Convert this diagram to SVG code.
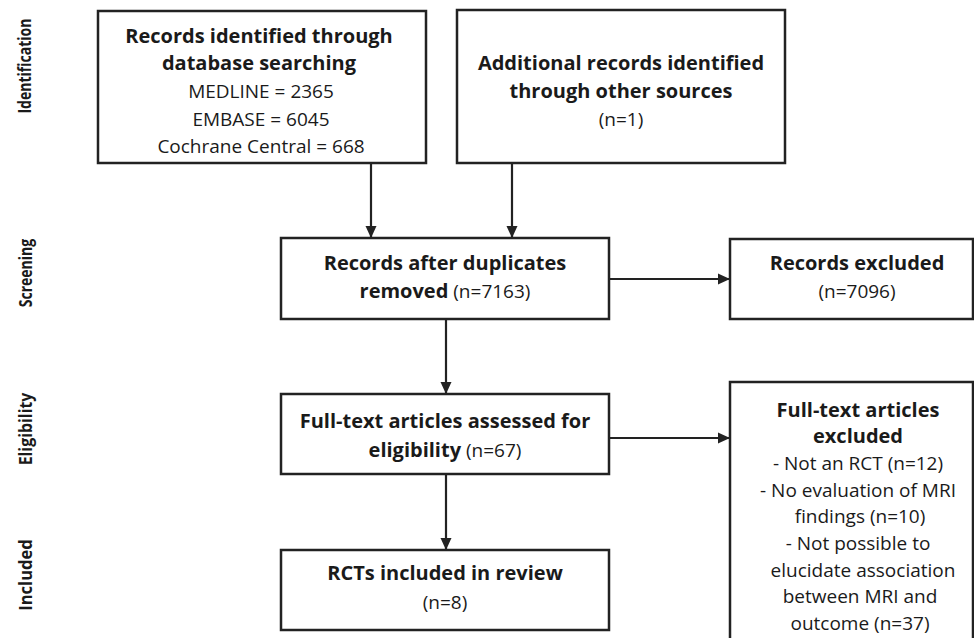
<svg xmlns="http://www.w3.org/2000/svg" width="974" height="638" viewBox="0 0 974 638">
  <style>
    .box { fill: #ffffff; stroke: #222222; stroke-width: 2.5; }
    .b { font-family: "Open Sans", "Liberation Sans", sans-serif; font-weight: bold; font-size: 20px; fill: #1a1a1a; text-anchor: middle; }
    .r { font-family: "Open Sans", "Liberation Sans", sans-serif; font-size: 19px; fill: #1a1a1a; text-anchor: middle; }
    .rn { font-weight: normal; }
    .side { font-family: "Open Sans", "Liberation Sans", sans-serif; font-weight: bold; font-size: 18px; fill: #1a1a1a; text-anchor: middle; }
    .conn { stroke: #222222; stroke-width: 2.2; fill: none; marker-end: url(#arrow); }
  </style>
  <defs>
    <marker id="arrow" markerUnits="userSpaceOnUse" markerWidth="12" markerHeight="12" viewBox="0 0 12 12" refX="12" refY="6" orient="auto">
      <path d="M0,0.5 L12,6 L0,11.5 Z" fill="#222222"/>
    </marker>
  </defs>
  <rect width="974" height="638" fill="#ffffff"/>

  <g id="phase-labels">
    <text class="side" transform="translate(31,66) rotate(-90) scale(0.78,1)">Identification</text>
    <text class="side" transform="translate(32,273) rotate(-90) scale(0.78,1)">Screening</text>
    <text class="side" transform="translate(32,429) rotate(-90) scale(0.88,1)">Eligibility</text>
    <text class="side" transform="translate(32,575) rotate(-90) scale(0.92,1)">Included</text>
  </g>

  <g id="connectors">
    <line class="conn" x1="371" y1="163" x2="371" y2="238"/>
    <line class="conn" x1="512" y1="163" x2="512" y2="238"/>
    <line class="conn" x1="609" y1="279" x2="730" y2="279"/>
    <line class="conn" x1="446" y1="319" x2="446" y2="394"/>
    <line class="conn" x1="609" y1="438" x2="730" y2="438"/>
    <line class="conn" x1="446" y1="474" x2="446" y2="550"/>
  </g>

  <g id="db-search">
    <rect class="box" x="98" y="11" width="328" height="152"/>
    <text class="b" x="259" y="43">Records identified through</text>
    <text class="b" x="259" y="70">database searching</text>
    <text class="r" x="261" y="98">MEDLINE = 2365</text>
    <text class="r" x="261" y="126">EMBASE = 6045</text>
    <text class="r" x="261" y="153">Cochrane Central = 668</text>
  </g>

  <g id="other-sources">
    <rect class="box" x="457" y="10" width="328" height="153"/>
    <text class="b" x="621" y="70">Additional records identified</text>
    <text class="b" x="621" y="98">through other sources</text>
    <text class="r" x="621" y="126">(n=1)</text>
  </g>

  <g id="after-duplicates">
    <rect class="box" x="281" y="238" width="328" height="81"/>
    <text class="b" x="445" y="270">Records after duplicates</text>
    <text class="b" x="445" y="298">removed<tspan class="rn" font-size="19px"> (n=7163)</tspan></text>
  </g>

  <g id="records-excluded">
    <rect class="box" x="730" y="239" width="243" height="80"/>
    <text class="b" x="857" y="270">Records excluded</text>
    <text class="r" x="857" y="298">(n=7096)</text>
  </g>

  <g id="full-text-assessed">
    <rect class="box" x="281" y="394" width="328" height="80"/>
    <text class="b" x="445" y="428">Full-text articles assessed for</text>
    <text class="b" x="445" y="457">eligibility<tspan class="rn" font-size="19px"> (n=67)</tspan></text>
  </g>

  <g id="full-text-excluded">
    <rect class="box" x="730" y="382" width="243" height="280"/>
    <text class="b" x="858" y="417">Full-text articles</text>
    <text class="b" x="858" y="443">excluded</text>
    <text class="r" x="858" y="470">-  Not an RCT (n=12)</text>
    <text class="r" x="858" y="497">-  No evaluation of MRI</text>
    <text class="r" x="860" y="523">findings (n=10)</text>
    <text class="r" x="858" y="550">-  Not possible to</text>
    <text class="r" x="863" y="577">elucidate association</text>
    <text class="r" x="860" y="603">between MRI and</text>
    <text class="r" x="860" y="630">outcome (n=37)</text>
  </g>

  <g id="included">
    <rect class="box" x="281" y="550" width="328" height="80"/>
    <text class="b" x="445" y="580">RCTs included in review</text>
    <text class="r" x="445" y="609">(n=8)</text>
  </g>
</svg>
